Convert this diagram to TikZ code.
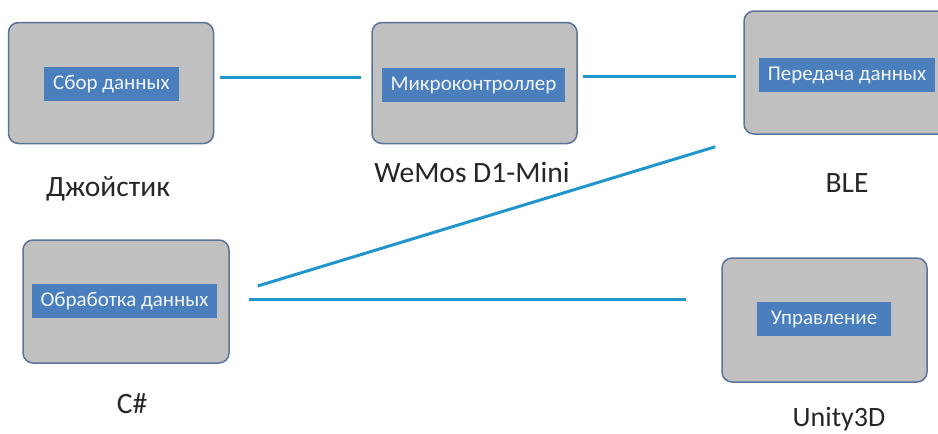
\documentclass[tikz,border=0pt]{standalone}
\usepackage{fontspec}
\setmainfont{Carlito}
\usepackage{xcolor}
\usepackage{tikz}
\usetikzlibrary{positioning}

\definecolor{boxgray}{HTML}{C0C0C0}
\definecolor{boxedge}{HTML}{5A7399}
\definecolor{tagblue}{HTML}{4A7EBD}
\definecolor{linkblue}{HTML}{2196CC}

\begin{document}
\begin{tikzpicture}[x=1pt, y=-1pt,
block/.style={rectangle, draw=boxedge, fill=boxgray, line width=1.5pt, rounded corners=10pt, minimum width=205pt, minimum height=121pt},
tag/.style={rectangle, fill=tagblue, text=white!92!tagblue, inner xsep=9pt, minimum height=34pt, font=\fontsize{21}{24}\selectfont},
caption/.style={anchor=base, text=black!85, font=\fontsize{29.5}{33}\selectfont},
link/.style={draw=linkblue, line width=3pt}
]
\useasboundingbox (0,0) rectangle (938,434);
\clip (0,0) rectangle (938,434);

\node[block] (b1) at (111,83) {};
\node[block] (b2) at (474.5,83) {};
\node[block, minimum height=123pt] (b3) at (846.5,72.5) {};
\node[block, minimum height=123pt, minimum width=206pt] (b4) at (126,301.5) {};
\node[block, minimum height=124pt] (b5) at (824.5,320) {};

\node[tag] (t1) at (111.5,84) {Сбор данных};
\node[tag] (t2) at (473.5,85) {Микроконтроллер};
\node[tag] (t3) at (847,75) {Передача данных};
\node[tag] (t4) at (124.5,301) {Обработка данных};
\node[tag, minimum width=134pt] (t5) at (824,319) {Управление};

\node[caption] (c1) at (108,196) {Джойстик};
\node[caption] (c2) at (472,182) {WeMos D1-Mini};
\node[caption] (c3) at (847,192) {BLE};
\node[caption] (c4) at (132,413) {C\#};
\node[caption, font=\fontsize{28}{32}\selectfont] (c5) at (839,426) {Unity3D};

\draw[link] ([xshift=6pt, yshift=6pt]b1.east) -- ([xshift=-10pt, yshift=6pt]b2.west);
\draw[link] ([xshift=5pt, yshift=7pt]b2.east) -- ([xshift=-7pt, yshift=-3.5pt]b3.west);
\draw[link] ([xshift=-28pt, yshift=-12pt]b3.south west) -- ([xshift=28pt, yshift=15.5pt]b4.east);
\draw[link] ([xshift=19pt, yshift=2.5pt]b4.east) -- ([xshift=-35pt, yshift=21pt]b5.west);

\end{tikzpicture}
\end{document}
